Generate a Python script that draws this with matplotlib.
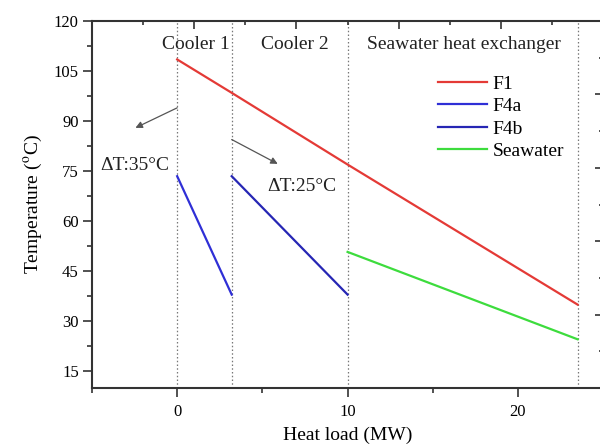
import numpy as np
import matplotlib
matplotlib.use("Agg")
import matplotlib.pyplot as plt
from matplotlib.ticker import MultipleLocator

plt.rcParams["font.family"] = ["Liberation Serif", "DejaVu Serif"]
plt.rcParams["mathtext.fontset"] = "stix"

# stage boundaries (MW)
bounds = [0, 3.2, 10, 23.5]

# temperature profiles
f1_x = [0, 3.2, 10, 23.5]
f1_y = [108.5, 98.5, 77.0, 35.0]
f4a_x = [0, 3.2]
f4a_y = [73.5, 38.0]
f4b_x = [3.2, 10]
f4b_y = [73.5, 38.0]
sea_x = [10, 23.5]
sea_y = [50.8, 24.6]

stage_names = ["Cooler 1", "Cooler 2", "Seawater heat exchanger"]
stage_x = [1.1, 6.9, 16.8]

fig = plt.figure(figsize=(6.0, 4.48), dpi=100)
ax = fig.add_axes([0.1533, 0.1339, 0.852, 0.819])

for b in bounds:
    ax.axvline(b, color="#777777", ls=(0, (1.2, 1.8)), lw=0.9, zorder=1)

ax.plot(f1_x, f1_y, color="#e43a36", lw=1.6, label="F1")
ax.plot(f4a_x, f4a_y, color="#2f2fd6", lw=1.6, label="F4a")
ax.plot(f4b_x, f4b_y, color="#2626b4", lw=1.6, label="F4b")
ax.plot(sea_x, sea_y, color="#3ddc3d", lw=1.6, label="Seawater")

for name, xc in zip(stage_names, stage_x):
    ax.text(xc, 113, name, ha="center", va="center", fontsize=14, color="#222222")

ax.annotate("", xy=(-2.45, 88), xytext=(0, 94),
            arrowprops=dict(arrowstyle="-|>", color="#555555", lw=0.9,
                            mutation_scale=10, shrinkA=0, shrinkB=0))
ax.annotate("", xy=(5.9, 77.2), xytext=(3.2, 84.5),
            arrowprops=dict(arrowstyle="-|>", color="#555555", lw=0.9,
                            mutation_scale=10, shrinkA=0, shrinkB=0))
ax.text(-2.5, 76.6, "ΔT:35°C", ha="center", va="center", fontsize=14, color="#222222")
ax.text(7.3, 70.4, "ΔT:25°C", ha="center", va="center", fontsize=14, color="#222222")

ax.set_xlim(-5, 25)
ax.set_ylim(10, 120)
ax.xaxis.set_major_locator(MultipleLocator(10))
ax.xaxis.set_minor_locator(MultipleLocator(5))
ax.yaxis.set_major_locator(MultipleLocator(15))
ax.yaxis.set_minor_locator(MultipleLocator(7.5))
ax.tick_params(which="both", direction="out", top=False, right=False,
               labelsize=12, color="#333333", width=1.2)
ax.tick_params(which="major", length=6.5)
ax.tick_params(which="minor", length=3.5)
ax.tick_params(axis="x", which="major", pad=5)
ax.tick_params(axis="y", which="major", pad=3)
for s in ["left", "bottom", "top"]:
    ax.spines[s].set_linewidth(1.5)
    ax.spines[s].set_color("#333333")
ax.spines["right"].set_visible(False)

ax.set_xlabel("Heat load (MW)", fontsize=14, labelpad=5)
ax.set_ylabel("Temperature ($^{\\mathrm{o}}$C)", fontsize=14, labelpad=7)

leg = ax.legend(loc="upper left", bbox_to_anchor=(0.677, 0.853), frameon=False,
                fontsize=14, handlelength=2.5, handletextpad=0.3,
                labelspacing=0.25, borderpad=0, borderaxespad=0)

# top axis ticks (inward, no labels)
axt = ax.twiny()
axt.set_xlim(ax.get_xlim())
axt.set_xticks([1, 7, 13, 19])
axt.set_xticks([-2, 4, 10, 16, 22], minor=True)
axt.tick_params(which="both", direction="in", labeltop=False, color="#333333", width=1.2)
axt.tick_params(which="major", length=6)
axt.tick_params(which="minor", length=3)
for s in axt.spines.values():
    s.set_visible(False)

# right-edge ticks of the neighbouring scale
axr = ax.twinx()
axr.set_ylim(0, 5)
axr.set_yticks([1, 2, 3, 4])
axr.set_yticks([0.5, 1.5, 2.5, 3.5, 4.5], minor=True)
axr.tick_params(which="both", direction="in", labelright=False, color="#333333", width=1.2)
axr.tick_params(which="major", length=6)
axr.tick_params(which="minor", length=3)
for s in axr.spines.values():
    s.set_visible(False)

fig.savefig("out.png", dpi=100)
